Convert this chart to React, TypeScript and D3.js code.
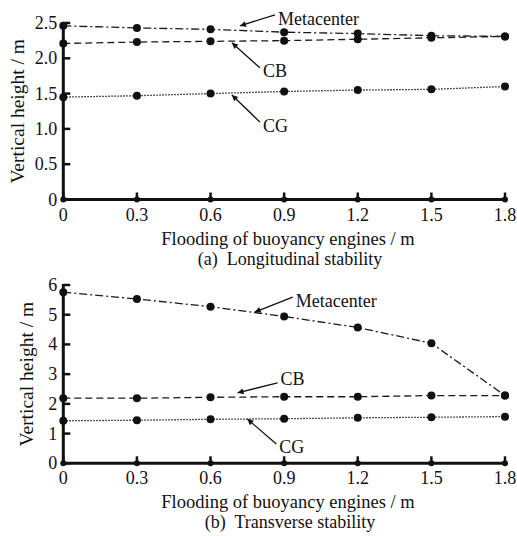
import React from "react";
import * as d3 from "d3";

const xValues = [0, 0.3, 0.6, 0.9, 1.2, 1.5, 1.8];
const xTickLabels = ["0", "0.3", "0.6", "0.9", "1.2", "1.5", "1.8"];

// (a) longitudinal stability
const longMeta = [2.46, 2.43, 2.41, 2.37, 2.35, 2.32, 2.31];
const longCB = [2.21, 2.23, 2.24, 2.25, 2.27, 2.29, 2.31];
const longCG = [1.45, 1.47, 1.5, 1.53, 1.55, 1.56, 1.6];
const longTicks = [0, 0.5, 1, 1.5, 2, 2.5];
const longTickLabels = ["0", "0.5", "1.0", "1.5", "2.0", "2.5"];

// (b) transverse stability
const transMeta = [5.76, 5.53, 5.27, 4.94, 4.57, 4.04, 2.28];
const transCB = [2.19, 2.19, 2.22, 2.24, 2.24, 2.28, 2.28];
const transCG = [1.43, 1.45, 1.48, 1.5, 1.53, 1.55, 1.57];
const transTicks = [0, 1, 2, 3, 4, 5, 6];
const transTickLabels = ["0", "1", "2", "3", "4", "5", "6"];

const FONT = "'Liberation Serif', 'Times New Roman', serif";
const INK = "#111";

const dashes = {
  Metacenter: "8 3 2 3",
  CB: "7 4",
  CG: "1.5 1.5",
};

const Panel = ({
  top,
  bottom,
  yMax,
  ticks,
  tickLabels,
  series,
  notes,
  caption,
  yLabelX,
}) => {
  const x = d3.scaleLinear().domain([0, 1.8]).range([63.3, 505]);
  const y = d3.scaleLinear().domain([0, yMax]).range([bottom, top]);

  const line = d3
    .line()
    .x((d, i) => x(xValues[i]))
    .y((d) => y(d));

  return (
    <g fontFamily={FONT} fill={INK}>
      {series.map((s) => (
        <path
          key={s.name}
          d={line(s.values)}
          fill="none"
          stroke="#1a1a1a"
          strokeWidth={1.3}
          strokeDasharray={dashes[s.name]}
        />
      ))}
      {series.map((s) =>
        s.values.map((v, i) => (
          <circle key={s.name + i} cx={x(xValues[i])} cy={y(v)} r={4} fill={INK} />
        ))
      )}

      {/* axes */}
      <line x1={x(0)} x2={x(0)} y1={y(0) + 1.5} y2={y(yMax) - 1} stroke={INK} strokeWidth={3} />
      <line x1={x(0) - 1.5} x2={x(1.8) + 1} y1={y(0)} y2={y(0)} stroke={INK} strokeWidth={3} />
      {ticks.map((t, i) => (
        <g key={"yt" + t}>
          <line x1={x(0)} x2={x(0) + 7} y1={y(t)} y2={y(t)} stroke={INK} strokeWidth={2.5} />
          <text x={x(0) - 6} y={y(t) + 6} textAnchor="end" fontSize={18}>
            {tickLabels[i]}
          </text>
        </g>
      ))}
      {xValues.map((t, i) => (
        <g key={"xt" + t}>
          <line x1={x(t)} x2={x(t)} y1={y(0)} y2={y(0) - 7} stroke={INK} strokeWidth={2.5} />
          <circle cx={x(t)} cy={y(0)} r={3} fill={INK} />
          <text x={x(t)} y={y(0) + 21} textAnchor="middle" fontSize={18}>
            {xTickLabels[i]}
          </text>
        </g>
      ))}

      {/* annotations */}
      {notes.map((n) => {
        const tx = x(n.x);
        const ty = y(n.y);
        return (
          <g key={n.label}>
            <line
              x1={tx + n.dx}
              y1={ty + n.dy}
              x2={tx}
              y2={ty}
              stroke={INK}
              strokeWidth={1.3}
              markerEnd="url(#arrowHead)"
            />
            <text x={tx + n.dx + 3} y={ty + n.dy + n.ty} fontSize={18}>
              {n.label}
            </text>
          </g>
        );
      })}

      <text
        transform={`translate(${yLabelX},${(top + bottom) / 2}) rotate(-90)`}
        textAnchor="middle"
        fontSize={19.5}
      >
        Vertical height / m
      </text>
      <text x={288} y={bottom + 45} textAnchor="middle" fontSize={18.5}>
        Flooding of buoyancy engines / m
      </text>
      <text x={290} y={bottom + 65} textAnchor="middle" fontSize={18} style={{ whiteSpace: "pre" }}>
        {caption}
      </text>
    </g>
  );
};

export default function App() {
  const longSeries = [
    { name: "Metacenter", values: longMeta },
    { name: "CB", values: longCB },
    { name: "CG", values: longCG },
  ];
  const transSeries = [
    { name: "Metacenter", values: transMeta },
    { name: "CB", values: transCB },
    { name: "CG", values: transCG },
  ];

  const longNotes = [
    { label: "Metacenter", x: 0.72, y: 2.46, dx: 35, dy: -11, ty: 10 },
    { label: "CB", x: 0.687, y: 2.22, dx: 28, dy: 25, ty: 9 },
    { label: "CG", x: 0.687, y: 1.48, dx: 28, dy: 27, ty: 10 },
  ];
  const transNotes = [
    { label: "Metacenter", x: 0.78, y: 5.09, dx: 38, dy: -15, ty: 10 },
    { label: "CB", x: 0.71, y: 2.37, dx: 40, dy: -10, ty: 2 },
    { label: "CG", x: 0.75, y: 1.49, dx: 29, dy: 25, ty: 9 },
  ];

  return (
    <svg
      width={517}
      height={536}
      style={{ position: "absolute", left: 0, top: 0, background: "#fff" }}
    >
      <defs>
        <marker
          id="arrowHead"
          viewBox="0 0 10 10"
          refX={10}
          refY={5}
          markerWidth={9}
          markerHeight={6}
          markerUnits="userSpaceOnUse"
          orient="auto"
        >
          <path d="M0,0 L10,5 L0,10 z" fill={INK} />
        </marker>
      </defs>
      <rect width={517} height={536} fill="#fff" />
      <Panel
        top={23}
        bottom={199.5}
        yMax={2.5}
        ticks={longTicks}
        tickLabels={longTickLabels}
        series={longSeries}
        notes={longNotes}
        caption="(a)  Longitudinal stability"
        yLabelX={24}
      />
      <Panel
        top={285}
        bottom={463.3}
        yMax={6}
        ticks={transTicks}
        tickLabels={transTickLabels}
        series={transSeries}
        notes={transNotes}
        caption="(b)  Transverse stability"
        yLabelX={33}
      />
    </svg>
  );
}
